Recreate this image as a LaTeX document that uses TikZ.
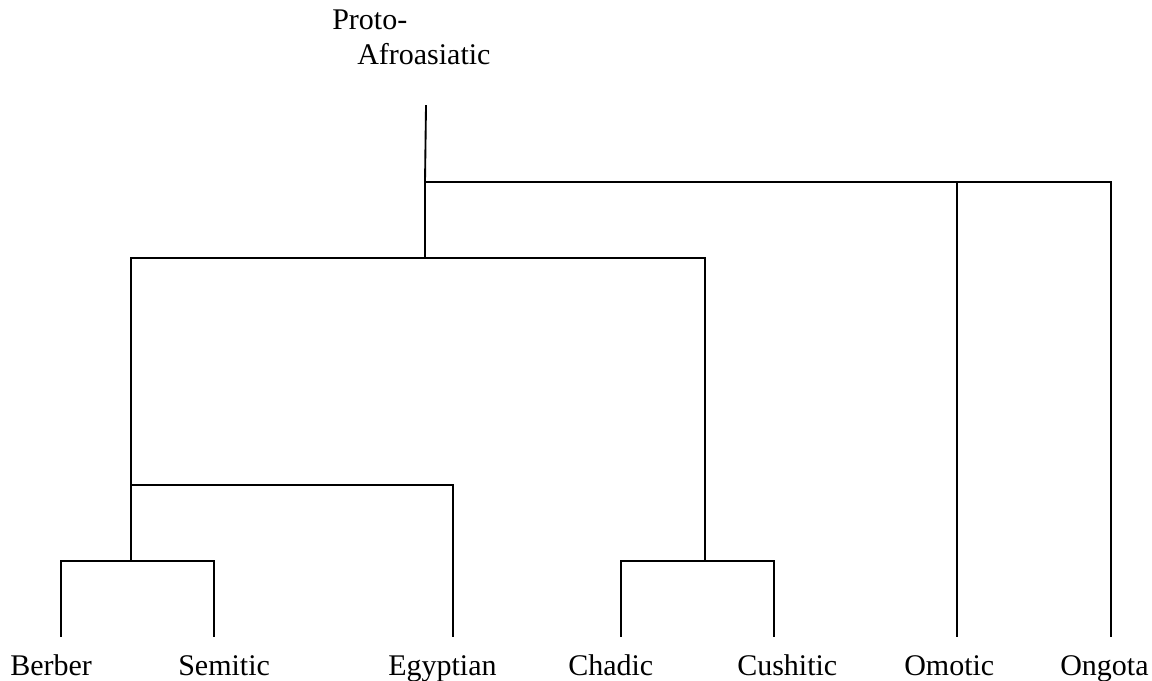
\documentclass[tikz,border=0pt]{standalone}
\usepackage{fontspec}
\setmainfont{Liberation Serif}
\begin{document}
\begin{tikzpicture}[x=0.75pt,y=-0.75pt,
  branch/.style={line width=1.4pt, line cap=rect},
  lbl/.style={anchor=base west, inner sep=0pt, font=\fontsize{22.5}{26.25}\selectfont, align=left}]
\useasboundingbox (0,0) rectangle (1152,681);
% labels
\node[lbl] (proto) at (332,65) {Proto-\\\hspace*{18.75pt}Afroasiatic};
\node[lbl] (berber) at (10,675) {Berber};
\node[lbl] (semitic) at (178,675) {Semitic};
\node[lbl] (egyptian) at (388,675) {Egyptian};
\node[lbl] (chadic) at (568,675) {Chadic};
\node[lbl] (cushitic) at (737,675) {Cushitic};
\node[lbl] (omotic) at (904,675) {Omotic};
\node[lbl] (ongota) at (1060,675) {Ongota};
% internal junctions
\coordinate (root) at (426,106);
\coordinate (j1) at (425,182);
\coordinate (jOm) at (957,182);
\coordinate (jOn) at (1111,182);
\coordinate (j2) at (425,258);
\coordinate (j2l) at (131,258);
\coordinate (j2r) at (705,258);
\coordinate (j3) at (131,485);
\coordinate (j3r) at (453,485);
\coordinate (j4) at (131,561);
\coordinate (j4l) at (61,561);
\coordinate (j4r) at (214,561);
\coordinate (j5) at (705,561);
\coordinate (j5l) at (621,561);
\coordinate (j5r) at (774,561);
% leaf tips
\coordinate (tBerber) at (61,636);
\coordinate (tSemitic) at (214,636);
\coordinate (tEgyptian) at (453,636);
\coordinate (tChadic) at (621,636);
\coordinate (tCushitic) at (774,636);
\coordinate (tOmotic) at (957,636);
\coordinate (tOngota) at (1111,636);
% branches
\draw[branch] (root) -- (j1) -- (j2);
\draw[branch] (j1) -- (jOn) -- (tOngota);
\draw[branch] (jOm) -- (tOmotic);
\draw[branch] (j2l) -- (j2r);
\draw[branch] (j2l) -- (j4);
\draw[branch] (j3) -- (j3r) -- (tEgyptian);
\draw[branch] (tBerber) -- (j4l) -- (j4r) -- (tSemitic);
\draw[branch] (j2r) -- (j5);
\draw[branch] (tChadic) -- (j5l) -- (j5r) -- (tCushitic);
\end{tikzpicture}
\end{document}
